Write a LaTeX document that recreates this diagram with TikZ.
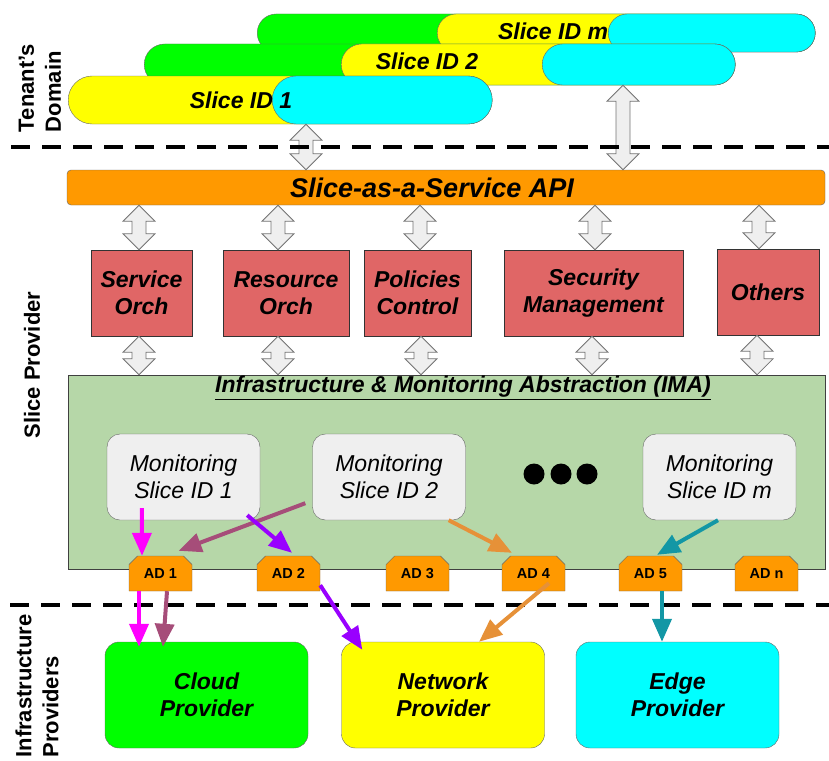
\documentclass[tikz,border=0pt]{standalone}
\usepackage{fontspec}
\setmainfont{Liberation Sans}
\usetikzlibrary{shapes.misc,arrows.meta,calc}

\definecolor{apiorange}{HTML}{FF9900}
\definecolor{orchred}{HTML}{E06666}
\definecolor{imagreen}{HTML}{B6D7A8}
\definecolor{monigray}{HTML}{EFEFEF}
\definecolor{cloudgreen}{HTML}{00FF00}
\definecolor{netyellow}{HTML}{FFFF00}
\definecolor{edgecyan}{HTML}{00FFFF}
\definecolor{flowmagenta}{HTML}{FF00FF}
\definecolor{flowmauve}{HTML}{A64D79}
\definecolor{flowpurple}{HTML}{9900FF}
\definecolor{floworange}{HTML}{E69138}
\definecolor{flowteal}{HTML}{1397A5}

% block double arrow at x=#1, from anchor #2 (top) down to anchor #3
\newcommand\biarrow[3]{%
  \path[biarrow] let \p1=(#2), \p2=(#3), \p3=(#1,0) in
    (\x3,\y1) -- ({\x3+16pt},{\y1-16pt}) -- ({\x3+7pt},{\y1-16pt}) -- ({\x3+7pt},{\y2+16pt})
    -- ({\x3+16pt},{\y2+16pt}) -- (\x3,\y2) -- ({\x3-16pt},{\y2+16pt}) -- ({\x3-7pt},{\y2+16pt})
    -- ({\x3-7pt},{\y1-16pt}) -- ({\x3-16pt},{\y1-16pt}) -- cycle;}

\begin{document}
\begin{tikzpicture}[x=1pt, y=-1pt,
    seg/.style={rounded rectangle, draw=black!60, anchor=west, inner sep=0pt, minimum height=#1},
    slicetext/.style={font=\fontsize{23}{27}\selectfont\bfseries\itshape},
    apibox/.style={draw=black!60, fill=apiorange, rounded corners=4pt,
        font=\fontsize{27}{30}\selectfont\bfseries\itshape},
    orch/.style={draw=black!80, fill=orchred, minimum height=86pt, align=center,
        font=\fontsize{23}{27}\selectfont\bfseries\itshape},
    imabox/.style={draw=black!75, fill=imagreen},
    monitor/.style={draw=black!60, fill=monigray, rounded corners=13pt, minimum width=153pt,
        minimum height=86pt, align=center, font=\fontsize{23}{27}\selectfont\itshape},
    adbox/.style={chamfered rectangle, chamfered rectangle corners={north west,north east},
        chamfered rectangle xsep=5pt, draw=black!60, fill=apiorange, inner sep=0pt,
        minimum width=63pt, minimum height=35pt, font=\fontsize{14.5}{16}\selectfont\bfseries},
    provider/.style={draw=black!60, rounded corners=14pt, minimum width=203pt, minimum height=106pt,
        align=center, font=\fontsize{23}{27}\selectfont\bfseries\itshape},
    biarrow/.style={draw=black!55, fill=monigray, line width=0.8pt, line join=miter},
    flow/.style={draw=#1, line width=4pt, -{Triangle[length=23pt,width=19pt]}},
    divider/.style={line width=4.5pt, dash pattern=on 19pt off 12pt},
    side/.style={rotate=90, align=left, font=\fontsize{22}{27}\selectfont\bfseries}
]
    \useasboundingbox (0,0) rectangle (829,760);

    % Tenant slices
    \node[seg=38pt, fill=cloudgreen, minimum width=558pt] (smg) at (257,33) {};
    \node[seg=38pt, fill=netyellow, minimum width=378pt] (smy) at (437,33) {};
    \node[seg=38pt, fill=edgecyan, minimum width=207pt] (smc) at (608,33) {};
    \node[slicetext] (sm) at (553,31) {Slice ID m};

    \node[seg=41pt, fill=cloudgreen, minimum width=591pt] (s2g) at (144,64.5) {};
    \node[seg=41pt, fill=netyellow, minimum width=394pt] (s2y) at (341,64.5) {};
    \node[seg=41pt, fill=edgecyan, minimum width=193pt] (s2c) at (542,64.5) {};
    \node[slicetext] (s2) at (427,61) {Slice ID 2};

    \node[seg=48pt, fill=netyellow, minimum width=424pt] (s1y) at (68,100) {};
    \node[seg=48pt, fill=edgecyan, minimum width=220pt] (s1c) at (272,100) {};
    \node[slicetext] (s1) at (241,100) {Slice ID 1};

    % Slice provider
    \node[apibox, minimum width=758pt, minimum height=35pt] (api) at (446,187.5)
        {Slice-as-a-Service API\hspace*{28pt}};

    \node[orch, minimum width=101pt] (svc) at (141.5,293) {Service\\Orch};
    \node[orch, minimum width=126pt] (res) at (286,293) {Resource\\Orch};
    \node[orch, minimum width=107pt] (pol) at (417.5,293) {Policies\\Control};
    \node[orch, minimum width=179pt] (sec) at (593.5,293) {Security\\Management};
    \node[orch, minimum width=102pt] (oth) at (768,292) {Others};

    \node[imabox, minimum width=757pt, minimum height=194pt] (ima) at (446.5,472) {};
    \node[slicetext] (imatitle) at (463,388) {\underline{Infrastructure \& Monitoring Abstraction (IMA)}};

    \node[monitor] (ms1) at (183.5,477) {Monitoring\\Slice ID 1};
    \node[monitor] (ms2) at (389,477) {Monitoring\\Slice ID 2};
    \node[monitor] (msm) at (719.5,477) {Monitoring\\Slice ID m};
    \foreach \x in {534,561,587}
        \fill (\x,474) circle (10.5pt);

    \node[adbox] (ad1) at (160.5,573.5) {AD 1};
    \node[adbox] (ad2) at (288.5,573.5) {AD 2};
    \node[adbox] (ad3) at (417.5,573.5) {AD 3};
    \node[adbox] (ad4) at (533.5,573.5) {AD 4};
    \node[adbox] (ad5) at (650.5,573.5) {AD 5};
    \node[adbox] (adn) at (766.5,573.5) {AD n};

    % Infrastructure providers
    \node[provider, fill=cloudgreen] (cloud) at (206.5,695) {Cloud\\Provider};
    \node[provider, fill=netyellow] (net) at (443,695) {Network\\Provider};
    \node[provider, fill=edgecyan] (edge) at (677.5,695) {Edge\\Provider};

    % API links
    \biarrow{306}{s1c.south}{api.north}
    \biarrow{623}{s2c.south}{api.north}
    \biarrow{139}{api.south}{svc.north}
    \biarrow{278}{api.south}{res.north}
    \biarrow{420}{api.south}{pol.north}
    \biarrow{595}{api.south}{sec.north}
    \biarrow{759}{api.south}{oth.north}
    \biarrow{139}{svc.south}{ima.north}
    \biarrow{278}{res.south}{ima.north}
    \biarrow{421}{pol.south}{ima.north}
    \biarrow{592}{sec.south}{ima.north}
    \biarrow{757}{oth.south}{ima.north}

    % Domain borders
    \draw[divider] (11,147) -- (829,147);
    \draw[divider] (10,605) -- (829,605);

    % Monitoring flows
    \draw[flow=flowmagenta] ([shift={(35,-12)}]ms1.south west) -- ([xshift=-18.5pt]ad1.north);
    \draw[flow=flowmagenta] ([xshift=-21.5pt]ad1.south) -- ([xshift=-67.5pt,yshift=-5pt]cloud.north);
    \draw[flow=flowmauve] ([shift={(-7,-17)}]ms2.south west) -- ([xshift=18pt,yshift=5pt]ad1.north);
    \draw[flow=flowmauve] ([xshift=6.5pt]ad1.south) -- ([xshift=-43.5pt,yshift=-5pt]cloud.north);
    \draw[flow=flowpurple] ([shift={(-13,-5)}]ms1.south east) -- ([xshift=3.5pt,yshift=3pt]ad2.north);
    \draw[flow=flowpurple] ([yshift=6pt]ad2.south east) -- ([shift={(21,8)}]net.north west);
    \draw[flow=floworange] ([xshift=-17pt]ms2.south east) -- ([xshift=-21.5pt,yshift=3pt]ad4.north);
    \draw[flow=floworange] ([xshift=15.5pt,yshift=8pt]ad4.south) -- ([xshift=36pt]net.north);
    \draw[flow=flowteal] ([xshift=-1.5pt]msm.south) -- ([xshift=6.5pt,yshift=1pt]ad5.north);
    \draw[flow=flowteal] ([xshift=11.5pt]ad5.south) -- ([xshift=-15.5pt]edge.north);

    % Domain names
    \node[side] (tenant) at (40,88) {Tenant’s\\Domain};
    \node[side] (provname) at (32,365) {Slice Provider};
    \node[side] (infra) at (37,686) {Infrastructure\\Providers};
\end{tikzpicture}
\end{document}
